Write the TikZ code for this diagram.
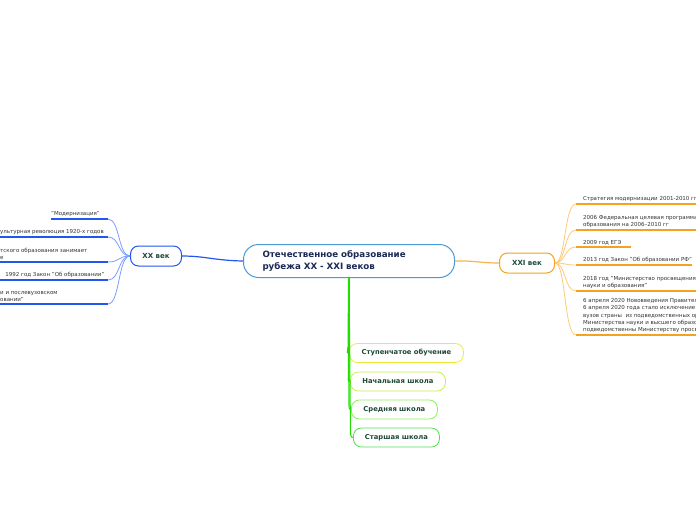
\documentclass[tikz,border=0pt]{standalone}
\usepackage{fontspec}
\setmainfont{DejaVu Sans}
\usetikzlibrary{calc}
\definecolor{cblue}{HTML}{4A9AD8}
\definecolor{cnavy}{HTML}{1B2A55}
\definecolor{tgreen}{HTML}{1E4A36}
\definecolor{leafgray}{HTML}{333333}
\definecolor{xxblue}{HTML}{2257EE}
\definecolor{xxlight}{HTML}{7C9CFF}
\definecolor{xxiorange}{HTML}{F5A21E}
\definecolor{xxilight}{HTML}{FFC878}
\definecolor{gA}{HTML}{F0EA3A}
\definecolor{gB}{HTML}{C6F04E}
\definecolor{gC}{HTML}{8EEE5E}
\definecolor{gD}{HTML}{4EE04E}
\definecolor{gline}{HTML}{22DD00}
\begin{document}
\begin{tikzpicture}[x=1pt,y=-1pt,
  central/.style={draw=cblue, line width=1pt, rounded corners=15pt, fill=white,
    minimum width=211pt, minimum height=33pt, text width=173pt, inner xsep=19pt,
    inner ysep=0pt, align=left, text=cnavy, font=\bfseries\fontsize{8.7}{12}\selectfont},
  topic/.style={draw=#1, line width=1pt, rounded corners=8pt, fill=white,
    minimum height=20pt, text=tgreen, font=\bfseries\fontsize{7}{8}\selectfont, inner sep=0pt},
  subnode/.style={draw=#1, line width=0.8pt, rounded corners=8pt, fill=white,
    minimum height=19pt, text=tgreen, font=\bfseries\fontsize{6.8}{8}\selectfont,
    inner sep=0pt, anchor=west},
  leaf/.style={font=\fontsize{5.5}{7.3}\selectfont, text=leafgray, align=left,
    inner xsep=0pt, inner ysep=2pt, anchor=south west},
  lconn/.style={draw=xxlight, line width=0.8pt},
  lunder/.style={draw=xxblue, line width=1.5pt},
  rconn/.style={draw=xxilight, line width=0.8pt},
  runder/.style={draw=xxiorange, line width=1.5pt},
]
\useasboundingbox (0,0) rectangle (696,520);
\clip (0,0) rectangle (696,520);

% central
\node[central, anchor=north west] (c) at (243,244)
  {Отечественное образование\\рубежа XX - XXI веков};

% main topics
\node[topic=xxblue, minimum width=51pt] (xx) at (156,256) {XX век};
\node[topic=xxiorange, minimum width=55pt] (xxi) at (527,263) {XXI век};

\draw[draw=xxblue, line width=1.2pt] (c.west) .. controls (215,260.5) and (205,256) .. (xx.east);
\draw[draw=xxiorange!80, line width=1.2pt] (c.east) .. controls (475,260.5) and (480,263) .. (xxi.west);

% left leaves
\coordinate (ln1) at (108,219);
\coordinate (ln2) at (108,237);
\coordinate (ln3) at (108,262);
\coordinate (ln4) at (108,280);
\coordinate (ln5) at (108,304);
\node[leaf] (l1) at (51,219) {"Модернизация"};
\node[leaf] (l2) at (0,237) {ультурная революция 1920-х годов};
\node[leaf] (l3) at (0,262) {тского образования занимает\\е};
\node[leaf] (l4) at (0,280) {\ \ \ 1992 год Закон "Об образовании"};
\node[leaf] (l5) at (0,304) {и и послевузовском\\овании"};
\foreach \i in {1,...,5}{
  \draw[lunder] (ln\i) -- (l\i.south west);
  \draw[lconn] (xx.west) .. controls (118,256) and (120,0 |- ln\i) .. (ln\i);
}

% right leaves
\coordinate (rn1) at (576,204);
\coordinate (rn2) at (576,230);
\coordinate (rn3) at (576,247);
\coordinate (rn4) at (576,265);
\coordinate (rn5) at (576,291);
\coordinate (rn6) at (576,335);
\node[leaf] (r1) at (583,204) {Стратегия модернизации 2001-2010 гг};
\node[leaf] (r2) at (583,230) {2006 Федеральная целевая программа развития\\образования на 2006–2010 гг};
\node[leaf] (r3) at (583,247) {2009 год ЕГЭ};
\node[leaf] (r4) at (583,265) {2013 год Закон "Об образовании РФ"};
\node[leaf] (r5) at (583,291) {2018 год "Министерство просвещения" и "Министерство\\науки и образования"};
\node[leaf] (r6) at (583,335) {6 апреля 2020 Нововведения Правительства России\\6 апреля 2020 года стало исключение ряда\\вузов страны \ из подведомственных организаций\\Министерства науки и высшего образования и\\подведомственны Министерству просвещения};
\foreach \i in {1,2,4,5,6}{
  \draw[runder] (rn\i) -- (r\i.south east);
}
\draw[runder] (rn3) -- ([xshift=9pt]r3.south east);
\foreach \i in {1,...,6}{
  \draw[rconn] (xxi.east) .. controls (566,263) and (564,0 |- rn\i) .. (rn\i);
}

% green sub-branches
\node[subnode=gA, minimum width=114pt] (s1) at (349,353) {Ступенчатое обучение};
\node[subnode=gB, minimum width=95pt]  (s2) at (350,381.5) {Начальная школа};
\node[subnode=gC, minimum width=86pt]  (s3) at (351,409.5) {Средняя школа};
\node[subnode=gD, minimum width=86pt]  (s4) at (353,437.5) {Старшая школа};
\draw[draw=gline, line width=1pt] (c.south) -- ($(s4.west)+(-2.5,-6)$) to[out=-90,in=180] (s4.west);
\draw[draw=gline, line width=1.1pt] (c.south) -- ($(s3.west)+(-2,-6)$) to[out=-90,in=180] (s3.west);
\draw[draw=gline, line width=1.3pt] (c.south) -- ($(s2.west)+(-1.5,-6)$) to[out=-90,in=180] (s2.west);
\draw[draw=gline, line width=2pt] (c.south) -- ($(s1.west)+(-0.5,-6)$) to[out=-90,in=180] (s1.west);
\end{tikzpicture}
\end{document}
